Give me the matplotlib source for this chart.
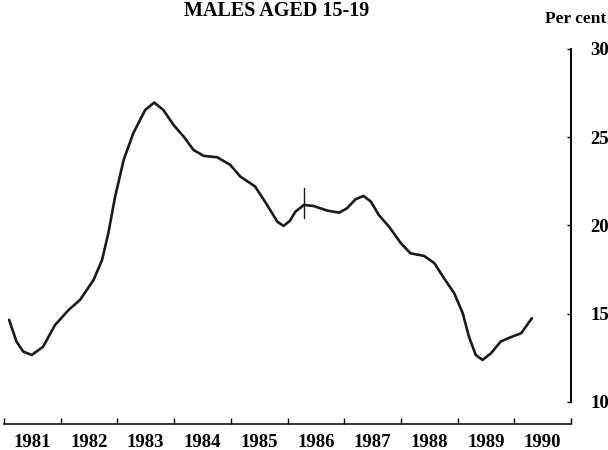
import matplotlib
matplotlib.use("Agg")
import matplotlib.pyplot as plt
import matplotlib.ticker as mticker

# unemployment rate, males aged 15-19 (per cent)
period = [
    1980.59, 1980.72, 1980.84, 1980.99, 1981.19, 1981.40, 1981.64, 1981.84,
    1982.08, 1982.23, 1982.34, 1982.46, 1982.61, 1982.78, 1982.99, 1983.15,
    1983.31, 1983.49, 1983.67, 1983.84, 1984.02, 1984.26, 1984.49, 1984.67,
    1984.93, 1985.14, 1985.32, 1985.43, 1985.54, 1985.64, 1985.79, 1985.96,
    1986.20, 1986.41, 1986.55, 1986.70, 1986.84, 1986.97, 1987.11, 1987.29,
    1987.50, 1987.67, 1987.91, 1988.09, 1988.26, 1988.44, 1988.59, 1988.70,
    1988.82, 1988.94, 1989.09, 1989.26, 1989.44, 1989.62, 1989.81,
]
rate = [
    14.65, 13.42, 12.85, 12.66, 13.13, 14.36, 15.21, 15.78,
    16.91, 18.05, 19.56, 21.63, 23.71, 25.22, 26.54, 26.96,
    26.54, 25.69, 25.03, 24.28, 23.94, 23.86, 23.43, 22.76,
    22.20, 21.16, 20.21, 19.97, 20.25, 20.78, 21.16, 21.10,
    20.84, 20.72, 20.97, 21.48, 21.67, 21.35, 20.59, 19.93,
    18.99, 18.42, 18.27, 17.86, 17.01, 16.16, 15.03, 13.70,
    12.66, 12.38, 12.76, 13.42, 13.67, 13.89, 14.74,
]
# break in series
break_at = 1985.79
break_span = [20.42, 22.12]

years = list(range(1981, 1991))
y_ticks = [10, 15, 20, 25, 30]

plt.rcParams["font.family"] = ["Liberation Serif", "DejaVu Serif"]
plt.rcParams["font.weight"] = "bold"

fig = plt.figure(figsize=(6.08, 4.5), dpi=100)
ax = fig.add_axes([4 / 608, 26 / 450, 567 / 608, 376 / 450])

ax.plot(period, rate, color="#1a1a1a", lw=1.9, solid_capstyle="round", solid_joinstyle="round")
ax.plot([break_at, break_at], break_span, color="#1a1a1a", lw=1.0)

ax.set_xlim(1980.5, 1990.5)
ax.set_ylim(8.75, 30.05)

for side in ("top", "left"):
    ax.spines[side].set_visible(False)
ax.spines["bottom"].set_linewidth(1.1)
ax.spines["right"].set_linewidth(1.4)
ax.spines["right"].set_bounds(10, 30)

ax.xaxis.set_major_locator(mticker.FixedLocator([y - 0.5 for y in years] + [years[-1] + 0.5]))
ax.xaxis.set_major_formatter(mticker.NullFormatter())
ax.xaxis.set_minor_locator(mticker.FixedLocator(years))
ax.xaxis.set_minor_formatter(mticker.FixedFormatter([str(y) for y in years]))
ax.tick_params(axis="x", which="major", direction="in", length=4, width=1.0)
ax.tick_params(axis="x", which="minor", length=0, pad=7, labelsize=13.5)

ax.yaxis.tick_right()
ax.set_yticks(y_ticks)
ax.tick_params(axis="y", direction="in", length=3, width=1.0, pad=14, labelsize=13.5)
ax.tick_params(axis="y", left=False)

fig.text(277 / 608, 1 - 11 / 450, "MALES AGED 15-19", ha="center", va="center",
         fontsize=14.5, fontweight="bold")
fig.text(606 / 608, 1 - 19 / 450, "Per cent", ha="right", va="center",
         fontsize=12.5, fontweight="bold")

fig.savefig("out.png", dpi=100)
